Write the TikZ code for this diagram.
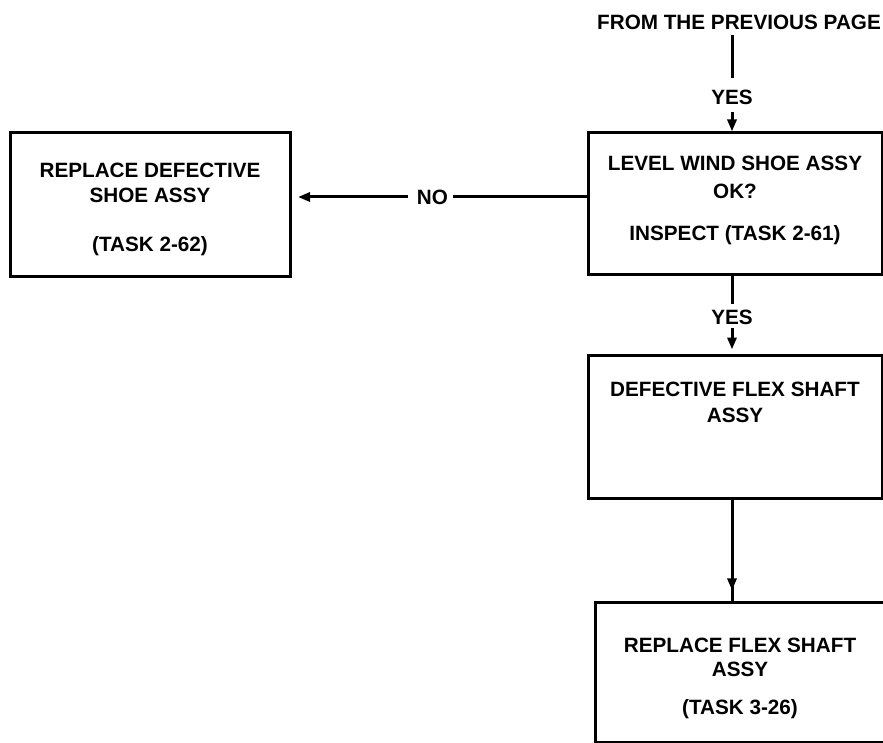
\documentclass[tikz,border=0pt]{standalone}
\usepackage{fontspec}
\setmainfont{Liberation Sans}
\usetikzlibrary{arrows.meta,decorations.markings}
\begin{document}
\begin{tikzpicture}[x=1pt,y=-1pt,
  every node/.style={font=\fontsize{20.7}{26}\selectfont\bfseries},
  boxnode/.style={draw,line width=3pt,align=center,inner sep=0pt},
  lbl/.style={inner sep=0pt},
  conn/.style={line width=3pt},
  arr/.style={conn,-{Triangle[length=12pt,width=9pt]}},
  midarr/.style={conn,postaction={decorate},decoration={markings,mark=at position #1 with {\arrow{Triangle[length=12pt,width=9pt]}}}}
]
\useasboundingbox (0,0) rectangle (883,743);

% boxes
\node[boxnode,minimum width=280pt,minimum height=144pt] (L) at (150,205)
  {\rule{0pt}{22.3pt}REPLACE DEFECTIVE\\[-1pt]SHOE ASSY\\[23pt](TASK 2-62)};
\node[boxnode,minimum width=294pt,minimum height=142pt] (R1) at (735,204)
  {LEVEL WIND SHOE ASSY\\[2pt]OK?\\[16pt]INSPECT (TASK 2-61)\rule[-10.7pt]{0pt}{10.7pt}};
\node[boxnode,minimum width=294pt,minimum height=143pt] (R2) at (735,426.5)
  {DEFECTIVE FLEX SHAFT\\ASSY\rule[-48pt]{0pt}{48pt}};
\node[boxnode,minimum width=290pt,minimum height=140pt] (R3) at (740,672)
  {\rule{0pt}{26.3pt}REPLACE FLEX SHAFT\\[-2pt]ASSY\\[12pt](TASK 3-26)};

% labels
\node[lbl,anchor=base] (top) at (739,30) {FROM THE PREVIOUS PAGE};
\node[lbl,anchor=base] (yes1) at (732,105) {YES};
\node[lbl,anchor=base] (yes2) at (732,324) {YES};
\node[lbl] (no) at (432.5,197) {NO};

% connectors
\draw[conn,shorten <=5pt,shorten >=12pt] (top.south -| yes1.north) -- (yes1.north);
\draw[arr,shorten <=7pt] (yes1.south) -- (yes1.south |- R1.north);
\draw[conn,shorten >=5pt] (R1.south -| yes2.north) -- (yes2.north);
\draw[arr,shorten <=4pt,shorten >=4pt] (yes2.south) -- (yes2.south |- R2.north);
\draw[midarr=0.9] (R2.south -| yes2.south) -- (yes2.south |- R3.north);
\draw[conn,shorten >=5pt] (R1.west |- no) -- (no);
\draw[arr,shorten <=9pt,shorten >=6.5pt] (no) -- (L.east |- no);
\end{tikzpicture}
\end{document}
